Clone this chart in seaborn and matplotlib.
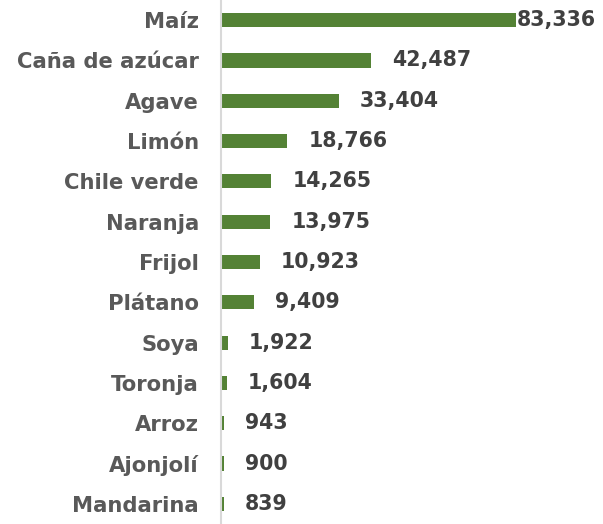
import matplotlib
matplotlib.use("Agg")
import matplotlib.pyplot as plt
import seaborn as sns
import pandas as pd

cultivos = ["Maíz", "Caña de azúcar", "Agave", "Limón", "Chile verde", "Naranja",
            "Frijol", "Plátano", "Soya", "Toronja", "Arroz", "Ajonjolí", "Mandarina"]
valores = [83336, 42487, 33404, 18766, 14265, 13975, 10923, 9409, 1922, 1604, 943, 900, 839]

df = pd.DataFrame({"cultivo": cultivos, "valor": valores})

sns.set_style("white")
plt.rcParams["font.family"] = ["DejaVu Sans"]

fig = plt.figure(figsize=(6.03, 5.24), dpi=100)
ax = fig.add_axes([221 / 603, 0.0, 1 - 221 / 603, 1.0])

sns.barplot(data=df, x="valor", y="cultivo", orient="h", color="#548235",
            saturation=1, width=0.35, linewidth=0, ax=ax)

xmax = 108000
ax.set_xlim(0, xmax)
ax.set_ylim(12.5, -0.5)

for i, v in enumerate(valores):
    label = f"{v:,}"
    off = 1 if v > 0.7 * xmax else 15
    ax.annotate(label, (v, i), xytext=(off, 0), textcoords="offset points",
                ha="left", va="center", fontsize=14.8, fontweight="bold", color="#404040")

ax.set_xlabel("")
ax.set_ylabel("")
ax.set_xticks([])
ax.tick_params(axis="y", length=0, pad=16)
for lbl in ax.get_yticklabels():
    lbl.set_fontsize(15.2)
    lbl.set_fontweight("bold")
    lbl.set_color("#595959")

for s in ["top", "right", "bottom"]:
    ax.spines[s].set_visible(False)
ax.spines["left"].set_color("#d9d9d9")
ax.spines["left"].set_linewidth(1.5)

fig.savefig("out.png", dpi=100)
